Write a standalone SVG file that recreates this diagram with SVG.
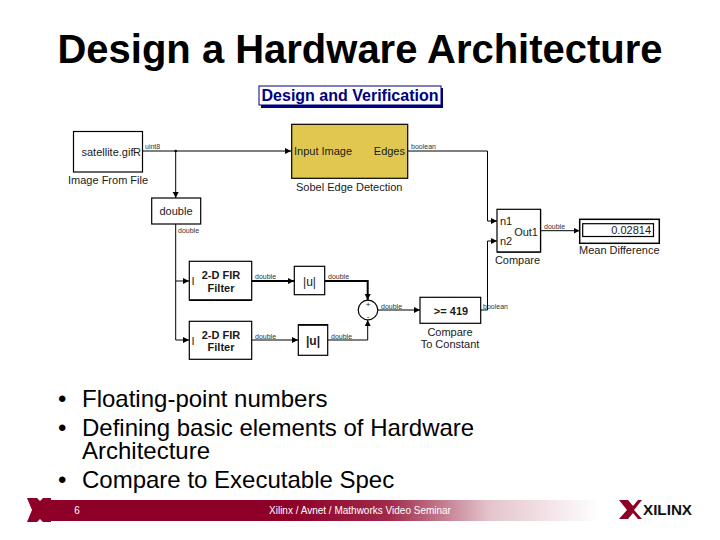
<svg xmlns="http://www.w3.org/2000/svg" width="720" height="540" viewBox="0 0 720 540">
<style>
text{font-family:"Liberation Sans",Arial,sans-serif;fill:#1a1a1a}
.b{fill:#fff;stroke:#000;stroke-width:1.2}
.l{font-size:11px}
.s{font-size:7px;fill:#333}
.c{fill:none;stroke:#000;stroke-width:1}
.t{fill:none;stroke:#000;stroke-width:2}
.bul{font-size:24px;fill:#000}
</style>
<defs>
<marker id="a" markerWidth="7" markerHeight="7" refX="6" refY="3" orient="auto" markerUnits="userSpaceOnUse"><path d="M0 0L6 3L0 6Z" fill="#000"/></marker>
<linearGradient id="g" x1="0" x2="1" y1="0" y2="0"><stop offset="0" stop-color="#8e0028"/><stop offset=".44" stop-color="#8e0028"/><stop offset=".62" stop-color="#a02a4a"/><stop offset=".8" stop-color="#e4c4cc"/><stop offset="1" stop-color="#fff"/></linearGradient>
</defs>
<rect width="720" height="540" fill="#fff"/>
<text id="title" x="360" y="63" text-anchor="middle" font-size="36" font-weight="700" textLength="605" lengthAdjust="spacingAndGlyphs" style="fill:#000;font-size:39.900px">Design a Hardware Architecture</text>
<g id="heading"><rect x="261" y="88" width="182" height="20" fill="#000080"/><rect x="259" y="86" width="182" height="19" fill="#fff" stroke="#000080" stroke-width="1"/><text x="350" y="101" text-anchor="middle" font-size="16" font-weight="700" style="fill:#000080">Design and Verification</text></g>
<g id="connectors">
<path class="c" d="M142.500 151H291" marker-end="url(#a)"/>
<path class="c" d="M175.700 151V198" marker-end="url(#a)"/>
<circle cx="175.700" cy="151" r="1.300"/>
<path class="c" d="M408 151H487.500V221H497" marker-end="url(#a)"/>
<path class="c" d="M175.700 224V340H189" marker-end="url(#a)"/>
<path class="c" d="M175.700 281H189" marker-end="url(#a)"/>
<path class="t" d="M252 281H294" marker-end="url(#a)"/>
<path class="t" d="M325 281H367.700V300" marker-end="url(#a)"/>
<path class="c" d="M252 340H298" marker-end="url(#a)"/>
<path class="c" d="M328 340H367.700V320" marker-end="url(#a)"/>
<path class="c" d="M378 310H420" marker-end="url(#a)"/>
<path class="c" d="M481 310H487.500V241H497" marker-end="url(#a)"/>
<path class="c" d="M541 230.700H579.500" marker-end="url(#a)"/>
</g>
<g id="labels">
<text class="s" x="145" y="149">uint8</text>
<text class="s" x="411" y="149">boolean</text>
<text class="s" x="178" y="233">double</text>
<text class="s" x="255" y="279">double</text>
<text class="s" x="328" y="279">double</text>
<text class="s" x="255" y="339">double</text>
<text class="s" x="331" y="339">double</text>
<text class="s" x="381" y="309">double</text>
<text class="s" x="483" y="309">boolean</text>
<text class="s" x="544" y="229">double</text>
</g>
<g id="image-from-file"><rect class="b" x="73.500" y="131.500" width="69" height="40.500"/><text class="l" x="81.500" y="156">satellite.gif</text><text class="l" x="133" y="156">R</text><text class="l" x="68" y="184">Image From File</text></g>
<g id="sobel"><rect x="291.700" y="124.300" width="116" height="54" fill="#e0c850" stroke="#000" stroke-width="1.200"/><text class="l" x="294" y="155">Input Image</text><text class="l" x="405" y="155" text-anchor="end">Edges</text><text class="l" x="296" y="191">Sobel Edge Detection</text></g>
<g id="double"><rect class="b" x="151.700" y="198" width="49" height="26"/><text class="l" x="176" y="215" text-anchor="middle">double</text></g>
<g id="fir1"><rect class="b" x="189.300" y="261.300" width="62.400" height="38.700"/><path d="M189.300 300.300H251.700" stroke="#000" stroke-width="1.500"/><text class="l" x="191.500" y="285">I</text><text class="l" x="221" y="279" text-anchor="middle" font-weight="700">2-D FIR</text><text class="l" x="221" y="292" text-anchor="middle" font-weight="700">Filter</text></g>
<g id="fir2"><rect class="b" x="189.300" y="321.300" width="62.400" height="38"/><text class="l" x="191.500" y="345">I</text><text class="l" x="221" y="339" text-anchor="middle" font-weight="700">2-D FIR</text><text class="l" x="221" y="351" text-anchor="middle" font-weight="700">Filter</text></g>
<g id="abs1"><rect class="b" x="294.300" y="266.300" width="30.400" height="28.400"/><text x="309.500" y="286" text-anchor="middle" font-size="12">|u|</text></g>
<g id="abs2"><rect class="b" x="298.300" y="324.700" width="29.400" height="30.600"/><path d="M298.300 325H327.700" stroke="#000" stroke-width="1.500"/><text x="313" y="345" text-anchor="middle" font-size="12" font-weight="700">|u|</text></g>
<g id="sum"><circle cx="368" cy="310" r="9.800" fill="#fff" stroke="#000" stroke-width="1.200"/><text x="368" y="306.500" text-anchor="middle" font-size="8">+</text><text x="368" y="318.500" text-anchor="middle" font-size="8">-</text></g>
<g id="compare-const"><rect class="b" x="420" y="297.300" width="60.700" height="26"/><text x="451" y="315" text-anchor="middle" font-size="11" font-weight="700">&gt;= 419</text><text class="l" x="450" y="336" text-anchor="middle">Compare</text><text class="l" x="450" y="348" text-anchor="middle">To Constant</text></g>
<g id="compare"><rect class="b" x="497" y="209.300" width="43.500" height="42.700"/><path d="M497 252.200H540.500M540.700 209.300V252.500" stroke="#000" stroke-width="1"/><text class="l" x="500" y="225">n1</text><text class="l" x="500" y="245">n2</text><text class="l" x="538" y="236" text-anchor="end">Out1</text><text class="l" x="517.500" y="264" text-anchor="middle">Compare</text></g>
<g id="display"><rect x="579.700" y="219.300" width="79.600" height="24" fill="#fff" stroke="#000" stroke-width="1.500"/><rect x="582.700" y="223.700" width="70.800" height="12.800" fill="#fff" stroke="#000" stroke-width="1.200"/><text class="l" x="651" y="234" text-anchor="end">0.02814</text><text class="l" x="579" y="254">Mean Difference</text></g>
<g id="bullets">
<text class="bul" x="58" y="407">•</text><text class="bul" x="82" y="407">Floating-point numbers</text>
<text class="bul" x="58" y="436">•</text><text class="bul" x="82" y="436">Defining basic elements of Hardware</text>
<text class="bul" x="82" y="459">Architecture</text>
<text class="bul" x="58" y="488">•</text><text class="bul" x="82" y="488">Compare to Executable Spec</text>
</g>
<g id="footer">
<rect x="45" y="500" width="555" height="21" fill="url(#g)"/>
<path d="M27 498H37L40 501L43 498H51V522H43L40 519L37 522H27L32 510Z" fill="#8e0028"/>
<text x="77" y="514" text-anchor="middle" font-size="10" style="fill:#fff">6</text>
<text x="360" y="514" text-anchor="middle" font-size="10" style="fill:#fff">Xilinx / Avnet / Mathworks Video Seminar</text>
</g>
<g id="logo">
<path d="M619 500H628L633 506L638 500H642L634 510L642 519H638L633 513L628 519H619L627 510Z" fill="#8e0028"/>
<text x="643" y="515" font-size="15" font-weight="700" textLength="49" lengthAdjust="spacingAndGlyphs" style="fill:#111">XILINX</text>
</g>
</svg>
